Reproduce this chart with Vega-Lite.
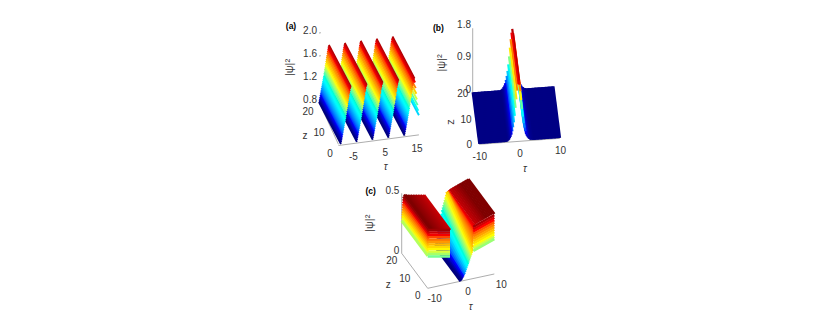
{"$schema":"https://vega.github.io/schema/vega-lite/v6.json","width":830,"height":315,"padding":0,"autosize":{"type":"fit","contains":"padding"},"background":"white","config":{"view":{"stroke":null}},
"params":[{"name":"P","value":{
"a":{"x0":341,"y0":144,"ax":3.18,"ay":-0.42,"bx":-1.1,"by":-2.1,"h":57.5,"vb":0.8,"vmin":0.8,"vmax":1.82,"tdx":-3.5,"tdy":15,"zdx":-11,"zdy":10,"vdx":-2,"vdy":-2.5,"Tdx":-3,"Tdy":29,"Zdx":-25,"Zdy":13,"Vdx":-29,"Vdy":0,"Hdx":-28,"Hdy":-7},
"b":{"x0":479.3,"y0":144.3,"ax":4.035,"ay":-0.3,"bx":-0.33,"by":-2.58,"h":35.8,"vb":0,"vmin":0,"vmax":1.8,"tdx":0.5,"tdy":13,"zdx":-10,"zdy":1,"vdx":-1.7,"vdy":-3,"Tdx":5.3,"Tdy":27.7,"Zdx":-25,"Zdy":3.5,"Vdx":-31,"Vdy":2.5,"Hdx":-34.4,"Hdy":0},
"c":{"x0":427.7,"y0":288.3,"ax":3.33,"ay":-0.715,"bx":-1.3,"by":-1.75,"h":120,"vb":0,"vmin":0,"vmax":0.48,"tdx":7,"tdy":10.7,"zdx":-10,"zdy":8,"vdx":-2.4,"vdy":-2.5,"Tdx":9.7,"Tdy":25.5,"Zdx":-26.4,"Zdy":14.2,"Vdx":-31.7,"Vdy":0,"Hdx":-31,"Hdy":-2.6}}}],
"datasets":{
"strips":[
{"p":"a","t":14.5,"v":1.12},{"p":"a","t":14.3,"v":1.2},{"p":"a","t":14.1,"v":1.3},{"p":"a","t":13.9,"v":1.4},{"p":"a","t":13.7,"v":1.5},{"p":"a","t":13.5,"v":1.6},{"p":"a","t":13.3,"v":1.7},
{"p":"a","t":13.1,"v":1.77},{"p":"a","t":13,"v":1.75},{"p":"a","t":12.9,"v":1.73},{"p":"a","t":12.8,"v":1.7},{"p":"a","t":12.7,"v":1.67},{"p":"a","t":12.6,"v":1.64},{"p":"a","t":12.5,"v":1.6},{"p":"a","t":12.4,"v":1.57},{"p":"a","t":12.3,"v":1.53},{"p":"a","t":12.2,"v":1.5},{"p":"a","t":12.1,"v":1.46},{"p":"a","t":12,"v":1.43},{"p":"a","t":11.9,"v":1.39},{"p":"a","t":11.8,"v":1.36},{"p":"a","t":11.7,"v":1.32},{"p":"a","t":11.6,"v":1.29},{"p":"a","t":11.5,"v":1.25},{"p":"a","t":11.4,"v":1.22},{"p":"a","t":11.3,"v":1.19},{"p":"a","t":11.2,"v":1.16},{"p":"a","t":11.1,"v":1.13},{"p":"a","t":11,"v":1.1},{"p":"a","t":10.9,"v":1.07},{"p":"a","t":10.8,"v":1.04},{"p":"a","t":10.7,"v":1.01},{"p":"a","t":10.6,"v":0.98},{"p":"a","t":10.5,"v":0.95},{"p":"a","t":10.4,"v":0.92},{"p":"a","t":10.3,"v":0.89},{"p":"a","t":10.2,"v":0.86},{"p":"a","t":10.1,"v":0.83},{"p":"a","t":10,"v":0.8},
{"p":"a","t":8.1,"v":1.77},{"p":"a","t":8,"v":1.75},{"p":"a","t":7.9,"v":1.73},{"p":"a","t":7.8,"v":1.7},{"p":"a","t":7.7,"v":1.67},{"p":"a","t":7.6,"v":1.64},{"p":"a","t":7.5,"v":1.6},{"p":"a","t":7.4,"v":1.57},{"p":"a","t":7.3,"v":1.53},{"p":"a","t":7.2,"v":1.5},{"p":"a","t":7.1,"v":1.46},{"p":"a","t":7,"v":1.43},{"p":"a","t":6.9,"v":1.39},{"p":"a","t":6.8,"v":1.36},{"p":"a","t":6.7,"v":1.32},{"p":"a","t":6.6,"v":1.29},{"p":"a","t":6.5,"v":1.25},{"p":"a","t":6.4,"v":1.22},{"p":"a","t":6.3,"v":1.19},{"p":"a","t":6.2,"v":1.16},{"p":"a","t":6.1,"v":1.13},{"p":"a","t":6,"v":1.1},{"p":"a","t":5.9,"v":1.07},{"p":"a","t":5.8,"v":1.04},{"p":"a","t":5.7,"v":1.01},{"p":"a","t":5.6,"v":0.98},{"p":"a","t":5.5,"v":0.95},{"p":"a","t":5.4,"v":0.92},{"p":"a","t":5.3,"v":0.89},{"p":"a","t":5.2,"v":0.86},{"p":"a","t":5.1,"v":0.83},{"p":"a","t":5,"v":0.8},
{"p":"a","t":3.1,"v":1.77},{"p":"a","t":3,"v":1.75},{"p":"a","t":2.9,"v":1.73},{"p":"a","t":2.8,"v":1.7},{"p":"a","t":2.7,"v":1.67},{"p":"a","t":2.6,"v":1.64},{"p":"a","t":2.5,"v":1.6},{"p":"a","t":2.4,"v":1.57},{"p":"a","t":2.3,"v":1.53},{"p":"a","t":2.2,"v":1.5},{"p":"a","t":2.1,"v":1.46},{"p":"a","t":2,"v":1.43},{"p":"a","t":1.9,"v":1.39},{"p":"a","t":1.8,"v":1.36},{"p":"a","t":1.7,"v":1.32},{"p":"a","t":1.6,"v":1.29},{"p":"a","t":1.5,"v":1.25},{"p":"a","t":1.4,"v":1.22},{"p":"a","t":1.3,"v":1.19},{"p":"a","t":1.2,"v":1.16},{"p":"a","t":1.1,"v":1.13},{"p":"a","t":1,"v":1.1},{"p":"a","t":0.9,"v":1.07},{"p":"a","t":0.8,"v":1.04},{"p":"a","t":0.7,"v":1.01},{"p":"a","t":0.6,"v":0.98},{"p":"a","t":0.5,"v":0.95},{"p":"a","t":0.4,"v":0.92},{"p":"a","t":0.3,"v":0.89},{"p":"a","t":0.2,"v":0.86},{"p":"a","t":0.1,"v":0.83},{"p":"a","t":0,"v":0.8},
{"p":"a","t":-1.9,"v":1.77},{"p":"a","t":-2,"v":1.75},{"p":"a","t":-2.1,"v":1.73},{"p":"a","t":-2.2,"v":1.7},{"p":"a","t":-2.3,"v":1.67},{"p":"a","t":-2.4,"v":1.64},{"p":"a","t":-2.5,"v":1.6},{"p":"a","t":-2.6,"v":1.57},{"p":"a","t":-2.7,"v":1.53},{"p":"a","t":-2.8,"v":1.5},{"p":"a","t":-2.9,"v":1.46},{"p":"a","t":-3,"v":1.43},{"p":"a","t":-3.1,"v":1.39},{"p":"a","t":-3.2,"v":1.36},{"p":"a","t":-3.3,"v":1.32},{"p":"a","t":-3.4,"v":1.29},{"p":"a","t":-3.5,"v":1.25},{"p":"a","t":-3.6,"v":1.22},{"p":"a","t":-3.7,"v":1.19},{"p":"a","t":-3.8,"v":1.16},{"p":"a","t":-3.9,"v":1.13},{"p":"a","t":-4,"v":1.1},{"p":"a","t":-4.1,"v":1.07},{"p":"a","t":-4.2,"v":1.04},{"p":"a","t":-4.3,"v":1.01},{"p":"a","t":-4.4,"v":0.98},{"p":"a","t":-4.5,"v":0.95},{"p":"a","t":-4.6,"v":0.92},{"p":"a","t":-4.7,"v":0.89},{"p":"a","t":-4.8,"v":0.86},{"p":"a","t":-4.9,"v":0.83},{"p":"a","t":-5,"v":0.8},
{"p":"a","t":-6.9,"v":1.77},{"p":"a","t":-7,"v":1.75},{"p":"a","t":-7.1,"v":1.73},{"p":"a","t":-7.2,"v":1.7},{"p":"a","t":-7.3,"v":1.67},{"p":"a","t":-7.4,"v":1.64},{"p":"a","t":-7.5,"v":1.6},{"p":"a","t":-7.6,"v":1.57},{"p":"a","t":-7.7,"v":1.53},{"p":"a","t":-7.8,"v":1.5},{"p":"a","t":-7.9,"v":1.46},{"p":"a","t":-8,"v":1.43},{"p":"a","t":-8.1,"v":1.39},{"p":"a","t":-8.2,"v":1.36},{"p":"a","t":-8.3,"v":1.32},{"p":"a","t":-8.4,"v":1.29},{"p":"a","t":-8.5,"v":1.25},{"p":"a","t":-8.6,"v":1.22},{"p":"a","t":-8.7,"v":1.19},{"p":"a","t":-8.8,"v":1.16},{"p":"a","t":-8.9,"v":1.13},{"p":"a","t":-9,"v":1.1},{"p":"a","t":-9.1,"v":1.07},{"p":"a","t":-9.2,"v":1.04},{"p":"a","t":-9.3,"v":1.01},{"p":"a","t":-9.4,"v":0.98},{"p":"a","t":-9.5,"v":0.95},{"p":"a","t":-9.6,"v":0.92},{"p":"a","t":-9.7,"v":0.89},{"p":"a","t":-9.8,"v":0.86},{"p":"a","t":-9.9,"v":0.83},{"p":"a","t":-10,"v":0.8},
{"p":"b","t":10,"v":0.01},{"p":"b","t":9.75,"v":0.01},{"p":"b","t":9.5,"v":0.01},{"p":"b","t":9.25,"v":0.01},{"p":"b","t":9,"v":0.01},{"p":"b","t":8.75,"v":0.01},{"p":"b","t":8.5,"v":0.01},{"p":"b","t":8.25,"v":0.01},{"p":"b","t":8,"v":0.01},{"p":"b","t":7.75,"v":0.01},{"p":"b","t":7.5,"v":0.01},{"p":"b","t":7.25,"v":0.01},{"p":"b","t":7,"v":0.01},{"p":"b","t":6.75,"v":0.01},{"p":"b","t":6.5,"v":0.01},{"p":"b","t":6.25,"v":0.01},{"p":"b","t":6,"v":0.01},{"p":"b","t":5.75,"v":0.01},{"p":"b","t":5.5,"v":0.01},{"p":"b","t":5.25,"v":0.01},{"p":"b","t":5,"v":0.01},{"p":"b","t":4.75,"v":0.01},{"p":"b","t":4.5,"v":0.01},{"p":"b","t":4.25,"v":0.01},{"p":"b","t":4,"v":0.01},{"p":"b","t":3.75,"v":0.01},{"p":"b","t":3.5,"v":0.01},{"p":"b","t":3.25,"v":0.01},{"p":"b","t":3,"v":0.02},{"p":"b","t":2.8,"v":0.02},{"p":"b","t":2.6,"v":0.03},{"p":"b","t":2.4,"v":0.05},{"p":"b","t":2.2,"v":0.07},{"p":"b","t":2,"v":0.1},{"p":"b","t":1.8,"v":0.14},{"p":"b","t":1.6,"v":0.19},{"p":"b","t":1.4,"v":0.27},{"p":"b","t":1.2,"v":0.37},{"p":"b","t":1,"v":0.5},{"p":"b","t":0.8,"v":0.68},{"p":"b","t":0.6,"v":0.9},{"p":"b","t":0.4,"v":1.15},{"p":"b","t":0.2,"v":1.4},{"p":"b","t":0,"v":1.58},{"p":"b","t":-0.2,"v":1.7},{"p":"b","t":-0.4,"v":1.6},{"p":"b","t":-0.6,"v":1.42},{"p":"b","t":-0.8,"v":1.18},{"p":"b","t":-1,"v":0.94},{"p":"b","t":-1.2,"v":0.72},{"p":"b","t":-1.4,"v":0.54},{"p":"b","t":-1.6,"v":0.4},{"p":"b","t":-1.8,"v":0.29},{"p":"b","t":-2,"v":0.2},{"p":"b","t":-2.2,"v":0.14},{"p":"b","t":-2.4,"v":0.1},{"p":"b","t":-2.6,"v":0.06},{"p":"b","t":-2.8,"v":0.04},{"p":"b","t":-3,"v":0.02},{"p":"b","t":-3.25,"v":0.01},{"p":"b","t":-3.5,"v":0.01},{"p":"b","t":-3.75,"v":0.01},{"p":"b","t":-4,"v":0.01},{"p":"b","t":-4.25,"v":0.01},{"p":"b","t":-4.5,"v":0.01},{"p":"b","t":-4.75,"v":0.01},{"p":"b","t":-5,"v":0.01},{"p":"b","t":-5.25,"v":0.01},{"p":"b","t":-5.5,"v":0.01},{"p":"b","t":-5.75,"v":0.01},{"p":"b","t":-6,"v":0.01},{"p":"b","t":-6.25,"v":0.01},{"p":"b","t":-6.5,"v":0.01},{"p":"b","t":-6.75,"v":0.01},{"p":"b","t":-7,"v":0.01},{"p":"b","t":-7.25,"v":0.01},{"p":"b","t":-7.5,"v":0.01},{"p":"b","t":-7.75,"v":0.01},{"p":"b","t":-8,"v":0.01},{"p":"b","t":-8.25,"v":0.01},{"p":"b","t":-8.5,"v":0.01},{"p":"b","t":-8.75,"v":0.01},{"p":"b","t":-9,"v":0.01},{"p":"b","t":-9.25,"v":0.01},{"p":"b","t":-9.5,"v":0.01},{"p":"b","t":-9.75,"v":0.01},{"p":"b","t":-10,"v":0.01},
{"p":"c","t":10,"v":0.5},{"p":"c","t":9.5,"v":0.5},{"p":"c","t":9,"v":0.495},{"p":"c","t":8.5,"v":0.49},{"p":"c","t":8,"v":0.485},{"p":"c","t":7.5,"v":0.48},{"p":"c","t":7,"v":0.475},{"p":"c","t":6.5,"v":0.47},{"p":"c","t":6,"v":0.465},{"p":"c","t":5.5,"v":0.46},{"p":"c","t":5,"v":0.455},{"p":"c","t":4.5,"v":0.45},{"p":"c","t":4,"v":0.44},
{"p":"c","t":3.95,"v":0.43,"v2":0.435},{"p":"c","t":3.9,"v":0.41,"v2":0.435},{"p":"c","t":3.85,"v":0.39,"v2":0.435},{"p":"c","t":3.8,"v":0.37,"v2":0.435},{"p":"c","t":3.75,"v":0.35,"v2":0.43},{"p":"c","t":3.7,"v":0.33,"v2":0.43},{"p":"c","t":3.65,"v":0.31,"v2":0.43},{"p":"c","t":3.6,"v":0.29,"v2":0.43},{"p":"c","t":3.55,"v":0.26,"v2":0.43},
{"p":"c","t":3.5,"v":0.23,"v2":0.43},{"p":"c","t":3.3,"v":0.215,"v2":0.41},{"p":"c","t":3.1,"v":0.2,"v2":0.39},{"p":"c","t":2.9,"v":0.185,"v2":0.37},{"p":"c","t":2.7,"v":0.17,"v2":0.35},{"p":"c","t":2.5,"v":0.155,"v2":0.33},{"p":"c","t":2.3,"v":0.14,"v2":0.31},{"p":"c","t":2.1,"v":0.125,"v2":0.29},{"p":"c","t":1.9,"v":0.11,"v2":0.26},{"p":"c","t":1.7,"v":0.095,"v2":0.24},{"p":"c","t":1.5,"v":0.08,"v2":0.21},{"p":"c","t":1.3,"v":0.065,"v2":0.18},{"p":"c","t":1.1,"v":0.05,"v2":0.15},{"p":"c","t":0.9,"v":0.04,"v2":0.12},{"p":"c","t":0.7,"v":0.03,"v2":0.09},{"p":"c","t":0.5,"v":0.02,"v2":0.06},{"p":"c","t":0.3,"v":0.01,"v2":0.03},{"p":"c","t":0.1,"v":0.005,"v2":0.01},{"p":"c","t":-0.1,"v":0},
{"p":"c","t":3.7,"t2":10,"v":0.43,"v2":0.49,"z2":0},{"p":"c","t":3.7,"t2":10,"v":0.41,"v2":0.47,"z2":0},{"p":"c","t":3.7,"t2":10,"v":0.39,"v2":0.45,"z2":0},{"p":"c","t":3.7,"t2":10,"v":0.37,"v2":0.43,"z2":0},{"p":"c","t":3.7,"t2":10,"v":0.35,"v2":0.41,"z2":0},{"p":"c","t":3.7,"t2":10,"v":0.33,"v2":0.39,"z2":0},{"p":"c","t":3.7,"t2":10,"v":0.31,"v2":0.37,"z2":0},{"p":"c","t":3.7,"t2":10,"v":0.29,"v2":0.35,"z2":0},{"p":"c","t":3.7,"t2":10,"v":0.27,"v2":0.33,"z2":0},{"p":"c","t":3.7,"t2":10,"v":0.25,"v2":0.31,"z2":0},{"p":"c","t":3.7,"t2":10,"v":0.23,"v2":0.29,"z2":0},
{"p":"c","t":-3.3,"v":0.445},{"p":"c","t":-3.8,"v":0.448},{"p":"c","t":-4.3,"v":0.452},{"p":"c","t":-4.8,"v":0.455},{"p":"c","t":-5.3,"v":0.458},{"p":"c","t":-5.8,"v":0.461},{"p":"c","t":-6.3,"v":0.464},{"p":"c","t":-6.8,"v":0.467},{"p":"c","t":-7.3,"v":0.47},{"p":"c","t":-7.8,"v":0.473},{"p":"c","t":-8.3,"v":0.476},{"p":"c","t":-8.8,"v":0.48},{"p":"c","t":-9.3,"v":0.485},
{"p":"c","t":-9.55,"v":0.47},{"p":"c","t":-9.6,"v":0.45},{"p":"c","t":-9.64,"v":0.43},{"p":"c","t":-9.68,"v":0.41},{"p":"c","t":-9.72,"v":0.39},{"p":"c","t":-9.76,"v":0.37},{"p":"c","t":-9.8,"v":0.35},{"p":"c","t":-9.84,"v":0.33},{"p":"c","t":-9.88,"v":0.31},{"p":"c","t":-9.94,"v":0.29},{"p":"c","t":-10,"v":0.27},
{"p":"c","t":-10,"t2":-3.3,"v":0.485,"v2":0.445,"z2":0},{"p":"c","t":-10,"t2":-3.3,"v":0.465,"v2":0.425,"z2":0},{"p":"c","t":-10,"t2":-3.3,"v":0.445,"v2":0.405,"z2":0},{"p":"c","t":-10,"t2":-3.3,"v":0.425,"v2":0.385,"z2":0},{"p":"c","t":-10,"t2":-3.3,"v":0.405,"v2":0.365,"z2":0},{"p":"c","t":-10,"t2":-3.3,"v":0.385,"v2":0.345,"z2":0},{"p":"c","t":-10,"t2":-3.3,"v":0.365,"v2":0.325,"z2":0},{"p":"c","t":-10,"t2":-3.3,"v":0.345,"v2":0.305,"z2":0},{"p":"c","t":-10,"t2":-3.3,"v":0.325,"v2":0.285,"z2":0},{"p":"c","t":-10,"t2":-3.3,"v":0.305,"v2":0.265,"z2":0},{"p":"c","t":-10,"t2":-3.3,"v":0.285,"v2":0.245,"z2":0},{"p":"c","t":-10,"t2":-3.3,"v":0.265,"v2":0.225,"z2":0}
],
"axes":[
{"p":"a","t":-10.8,"z":0,"v":0.8,"t2":-10,"z2":20},{"p":"a","t":-10.8,"z":0,"v":0.78,"t2":14.5,"z2":0},{"p":"a","t":-10,"z":20,"v":2.0,"t2":-9.4,"z2":20},{"p":"a","t":-10,"z":20,"v":1.6,"t2":-9.4,"z2":20},
{"p":"b","t":-10,"z":0,"v":0,"z2":20},{"p":"b","t":-10,"z":20,"v":0,"v2":1.8,"z2":20},{"p":"b","t":-10,"z":0,"v":0,"t2":10,"z2":0},
{"p":"c","t":-10,"z":0,"v":0,"z2":20},{"p":"c","t":-10,"z":20,"v":0,"v2":0.5,"z2":20},{"p":"c","t":-10,"z":0,"v":0,"t2":10,"z2":0}
],
"labels":[
{"p":"a","k":"v","t":-10,"z":20,"v":2.0,"text":"2.0"},{"p":"a","k":"v","t":-10,"z":20,"v":1.6,"text":"1.6"},{"p":"a","k":"v","t":-10,"z":20,"v":1.2,"text":"1.2"},{"p":"a","k":"v","t":-10,"z":20,"v":0.8,"text":"0.8"},
{"p":"a","k":"z","t":-10,"z":20,"v":0.8,"text":"20"},{"p":"a","k":"z","t":-10,"z":10,"v":0.8,"text":"10"},{"p":"a","k":"z","t":-10,"z":0,"v":0.8,"text":"0"},
{"p":"a","k":"t","t":-5,"z":0,"v":0.8,"text":"-5"},{"p":"a","k":"t","t":5,"z":0,"v":0.8,"text":"5"},{"p":"a","k":"t","t":15,"z":0,"v":0.8,"text":"15"},
{"p":"a","k":"T","t":5,"z":0,"v":0.8,"text":"τ"},{"p":"a","k":"Z","t":-10,"z":10,"v":0.8,"text":"z"},{"p":"a","k":"V","t":-10,"z":20,"v":1.4,"text":"|ψ|²"},{"p":"a","k":"H","t":-10,"z":20,"v":2.0,"text":"(a)"},
{"p":"b","k":"v","t":-10,"z":20,"v":1.8,"text":"1.8"},{"p":"b","k":"v","t":-10,"z":20,"v":0.9,"text":"0.9"},{"p":"b","k":"v","t":-10,"z":20,"v":0,"text":"0"},
{"p":"b","k":"z","t":-10,"z":20,"v":0,"text":"20"},{"p":"b","k":"z","t":-10,"z":10,"v":0,"text":"10"},{"p":"b","k":"z","t":-10,"z":0,"v":0,"text":"0"},
{"p":"b","k":"t","t":-10,"z":0,"v":0,"text":"-10"},{"p":"b","k":"t","t":0,"z":0,"v":0,"text":"0"},{"p":"b","k":"t","t":10,"z":0,"v":0,"text":"10"},
{"p":"b","k":"T","t":0,"z":0,"v":0,"text":"τ"},{"p":"b","k":"R","t":-10,"z":10,"v":0,"text":"z"},{"p":"b","k":"V","t":-10,"z":20,"v":0.9,"text":"|ψ|²"},{"p":"b","k":"H","t":-10,"z":20,"v":1.8,"text":"(b)"},
{"p":"c","k":"v","t":-10,"z":20,"v":0.5,"text":"0.5"},{"p":"c","k":"v","t":-10,"z":20,"v":0,"text":"0"},
{"p":"c","k":"z","t":-10,"z":20,"v":0,"text":"20"},{"p":"c","k":"z","t":-10,"z":10,"v":0,"text":"10"},{"p":"c","k":"z","t":-10,"z":0,"v":0,"text":"0"},
{"p":"c","k":"t","t":-10,"z":0,"v":0,"text":"-10"},{"p":"c","k":"t","t":0,"z":0,"v":0,"text":"0"},{"p":"c","k":"t","t":10,"z":0,"v":0,"text":"10"},
{"p":"c","k":"T","t":0,"z":0,"v":0,"text":"τ"},{"p":"c","k":"Z","t":-10,"z":10,"v":0,"text":"z"},{"p":"c","k":"V","t":-10,"z":20,"v":0.25,"text":"|ψ|²"},{"p":"c","k":"H","t":-10,"z":20,"v":0.5,"text":"(c)"}
]},
"layer":[
{"data":{"name":"axes"},
"transform":[
{"calculate":"isValid(datum.t2)?datum.t2:datum.t","as":"tb"},{"calculate":"isValid(datum.v2)?datum.v2:datum.v","as":"vb"},
{"calculate":"P[datum.p].x0+P[datum.p].ax*(datum.t+10)+P[datum.p].bx*datum.z","as":"x"},
{"calculate":"P[datum.p].y0+P[datum.p].ay*(datum.t+10)+P[datum.p].by*datum.z-P[datum.p].h*(datum.v-P[datum.p].vb)","as":"y"},
{"calculate":"P[datum.p].x0+P[datum.p].ax*(datum.tb+10)+P[datum.p].bx*datum.z2","as":"x2"},
{"calculate":"P[datum.p].y0+P[datum.p].ay*(datum.tb+10)+P[datum.p].by*datum.z2-P[datum.p].h*(datum.vb-P[datum.p].vb)","as":"y2"}],
"mark":{"type":"rule","color":"#8a8a8a","strokeWidth":0.7},
"encoding":{"x":{"field":"x","type":"quantitative","scale":{"domain":[0,830],"nice":false,"zero":false},"axis":null},"y":{"field":"y","type":"quantitative","scale":{"domain":[315,0],"nice":false,"zero":false},"axis":null},"x2":{"field":"x2"},"y2":{"field":"y2"}}},
{"data":{"name":"strips"},
"transform":[
{"calculate":"isValid(datum.t2)?datum.t2:datum.t","as":"tb"},{"calculate":"isValid(datum.v2)?datum.v2:datum.v","as":"vb"},{"calculate":"isValid(datum.z2)?datum.z2:20","as":"zb"},
{"calculate":"((datum.v+datum.vb)/2-P[datum.p].vmin)/(P[datum.p].vmax-P[datum.p].vmin)","as":"level"},
{"calculate":"P[datum.p].x0+P[datum.p].ax*(datum.t+10)","as":"x"},
{"calculate":"P[datum.p].y0+P[datum.p].ay*(datum.t+10)-P[datum.p].h*(datum.v-P[datum.p].vb)","as":"y"},
{"calculate":"P[datum.p].x0+P[datum.p].ax*(datum.tb+10)+P[datum.p].bx*datum.zb","as":"x2"},
{"calculate":"P[datum.p].y0+P[datum.p].ay*(datum.tb+10)+P[datum.p].by*datum.zb-P[datum.p].h*(datum.vb-P[datum.p].vb)","as":"y2"}],
"mark":{"type":"rule"},
"encoding":{"x":{"field":"x","type":"quantitative"},"y":{"field":"y","type":"quantitative"},"x2":{"field":"x2"},"y2":{"field":"y2"},
"size":{"field":"p","type":"nominal","legend":null,"scale":{"domain":["a","b","c"],"range":[1.9,2.6,2.6]}},
"color":{"field":"level","type":"quantitative","legend":null,"scale":{"domain":[0,0.125,0.375,0.625,0.875,1],"range":["#00007f","#0000ff","#00ffff","#ffff00","#ff0000","#7f0000"],"clamp":true}}}},
{"data":{"name":"labels"},
"transform":[
{"calculate":"P[datum.p].x0+P[datum.p].ax*(datum.t+10)+P[datum.p].bx*datum.z+P[datum.p][(datum.k=='R'?'Z':datum.k)+'dx']","as":"x"},
{"calculate":"P[datum.p].y0+P[datum.p].ay*(datum.t+10)+P[datum.p].by*datum.z-P[datum.p].h*(datum.v-P[datum.p].vb)+P[datum.p][(datum.k=='R'?'Z':datum.k)+'dy']","as":"y"}],
"layer":[
{"transform":[{"filter":"datum.k=='v'"}],"mark":{"type":"text","font":"Liberation Sans","fontSize":10,"color":"#333333","align":"right","baseline":"middle"},"encoding":{"x":{"field":"x","type":"quantitative"},"y":{"field":"y","type":"quantitative"},"text":{"field":"text"}}},
{"transform":[{"filter":"datum.k=='t'||datum.k=='z'||datum.k=='Z'"}],"mark":{"type":"text","font":"Liberation Sans","fontSize":10,"color":"#333333","align":"center","baseline":"middle"},"encoding":{"x":{"field":"x","type":"quantitative"},"y":{"field":"y","type":"quantitative"},"text":{"field":"text"}}},
{"transform":[{"filter":"datum.k=='T'"}],"mark":{"type":"text","font":"Liberation Sans","fontSize":10,"fontStyle":"italic","color":"#333333","align":"center","baseline":"middle"},"encoding":{"x":{"field":"x","type":"quantitative"},"y":{"field":"y","type":"quantitative"},"text":{"field":"text"}}},
{"transform":[{"filter":"datum.k=='R'||datum.k=='V'"}],"mark":{"type":"text","font":"Liberation Sans","fontSize":11,"color":"#333333","align":"center","baseline":"middle","angle":270},"encoding":{"x":{"field":"x","type":"quantitative"},"y":{"field":"y","type":"quantitative"},"text":{"field":"text"}}},
{"transform":[{"filter":"datum.k=='H'"}],"mark":{"type":"text","font":"Liberation Sans","fontSize":8.5,"fontWeight":"bold","color":"#000000","align":"center","baseline":"middle"},"encoding":{"x":{"field":"x","type":"quantitative"},"y":{"field":"y","type":"quantitative"},"text":{"field":"text"}}}
]}
]}
